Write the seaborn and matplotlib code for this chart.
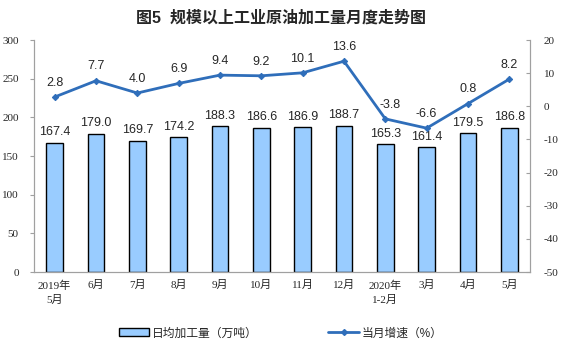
import numpy as np
import pandas as pd
import matplotlib
matplotlib.use("Agg")
import matplotlib.pyplot as plt
import seaborn as sns
from matplotlib.patches import Patch
from matplotlib.lines import Line2D

months = ["2019年\n5月", "6月", "7月", "8月", "9月", "10月", "11月", "12月",
          "2020年\n1-2月", "3月", "4月", "5月"]
output = [167.4, 179.0, 169.7, 174.2, 188.3, 186.6, 186.9, 188.7, 165.3, 161.4, 179.5, 186.8]
growth = [2.8, 7.7, 4.0, 6.9, 9.4, 9.2, 10.1, 13.6, -3.8, -6.6, 0.8, 8.2]

sns.set_style("white")
plt.rcParams["font.family"] = ["Liberation Sans", "Noto Sans CJK SC"]
plt.rcParams["axes.unicode_minus"] = False

serif = ["Liberation Serif", "Noto Sans CJK SC"]
bar_color = "#99CCFF"
line_color = "#2F6EBA"
spine_color = "#A0A0A0"

df = pd.DataFrame({"month": months, "output": output, "growth": growth,
                   "pos": np.arange(len(months))})

fig = plt.figure(figsize=(5.61, 3.57), dpi=100)
ax = fig.add_axes([34 / 561, 85 / 357, 496 / 561, 232 / 357])

sns.barplot(data=df, x="month", y="output", ax=ax, color=bar_color,
            edgecolor="black", linewidth=1.0, width=0.4, saturation=1)
ax.set_ylim(0, 300)
ax.set_xlim(-0.5, len(months) - 0.5)
ax.set_yticks(range(0, 301, 50))
ax.set_xlabel("")
ax.set_ylabel("")
for i, v in enumerate(output):
    ax.text(i, v + 6, f"{v:.1f}", ha="center", va="bottom", fontsize=9)

ax2 = ax.twinx()
sns.lineplot(data=df, x="pos", y="growth", ax=ax2, color=line_color,
             linewidth=2, marker="D", markersize=3.2, markeredgecolor=line_color)
ax2.set_ylim(-50, 20)
ax2.set_yticks(range(-50, 21, 10))
ax2.set_ylabel("")
ax2.set_xlim(-0.5, len(months) - 0.5)
for i, v in enumerate(growth):
    dx = 0.12 if v < 0 and i > 0 and growth[i - 1] > v + 10 else 0
    ax2.text(i + dx, v + 2.5, f"{v:.1f}", ha="center", va="bottom", fontsize=9, zorder=5)

for a in (ax, ax2):
    for side in ("left", "right", "bottom"):
        a.spines[side].set_color(spine_color)
        a.spines[side].set_linewidth(0.8)
    a.spines["top"].set_visible(False)

ax.set_xticks(range(len(months)))
ax.set_xticklabels(months, fontsize=8, family=serif, linespacing=1.5)
ax.set_xticks(np.arange(0.5, len(months) - 0.5, 1), minor=True)
ax.tick_params(axis="x", which="major", length=0, pad=6)
ax.tick_params(axis="x", which="minor", length=3, direction="in", color=spine_color)
ax.tick_params(axis="y", length=3, direction="out", color=spine_color, labelsize=8, pad=8)
for lbl in ax.get_yticklabels():
    lbl.set_family(serif)
ax2.tick_params(axis="y", length=3, direction="in", color=spine_color, labelsize=8, pad=10)
for lbl in ax2.get_yticklabels():
    lbl.set_family(serif)

fig.text(0.5, 0.95, "图5  规模以上工业原油加工量月度走势图", ha="center", va="center",
         fontsize=11.5, fontweight="bold")

handles = [Patch(facecolor=bar_color, edgecolor="black", linewidth=1.0),
           Line2D([0], [0], color=line_color, linewidth=2, marker="D", markersize=3)]
fig.legend(handles, ["日均加工量（万吨）", "当月增速（%）"], loc="center",
           bbox_to_anchor=(0.5, 0.066), ncol=2, frameon=False, fontsize=8.5,
           handlelength=2.6, handleheight=0.7, columnspacing=6, handletextpad=0.2)

fig.savefig("out.png", dpi=100)
